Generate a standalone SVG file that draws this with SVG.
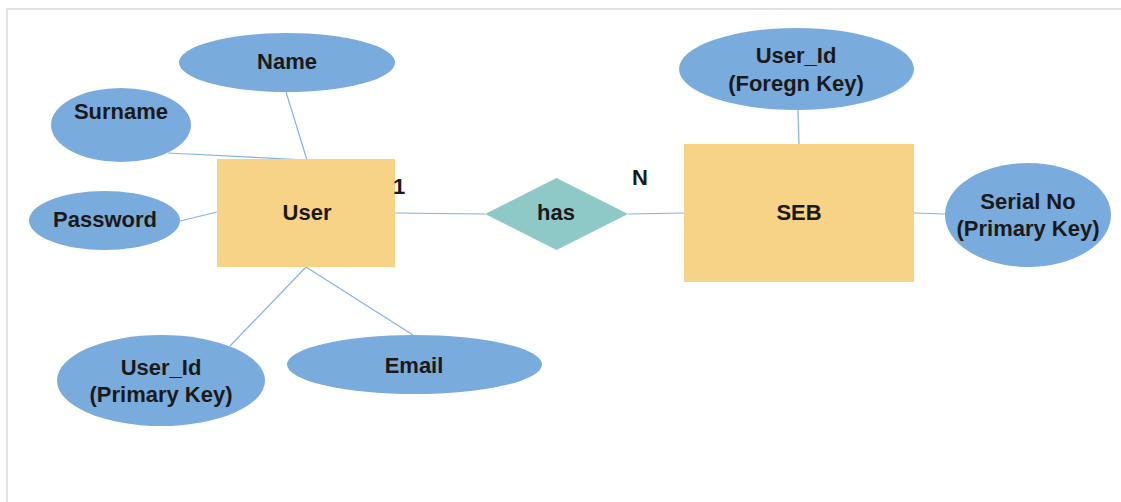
<svg xmlns="http://www.w3.org/2000/svg" width="1121" height="502" viewBox="0 0 1121 502">
  <style>
    .attr { fill: #7aabdd; }
    .ent { fill: #f6d387; }
    .rel { fill: #8fc9c7; }
    .lbl { font-family: "Liberation Sans", Arial, sans-serif; font-weight: bold; font-size: 22px; fill: #1a1a1a; text-anchor: middle; }
    .card { font-family: "Liberation Sans", Arial, sans-serif; font-weight: bold; font-size: 22px; fill: #1a1a1a; text-anchor: middle; }
    .link { stroke: #84b3df; stroke-width: 1.2; fill: none; }
  </style>
  <rect width="1121" height="502" fill="#ffffff"/>
  <!-- page frame -->
  <path d="M7 502 V9 H1121" fill="none" stroke="#e2e2e2" stroke-width="2"/>

  <g id="connectors">
    <line class="link" x1="286" y1="92" x2="307" y2="160"/>
    <line class="link" x1="168" y1="153" x2="307" y2="160"/>
    <line class="link" x1="180" y1="221" x2="217" y2="212"/>
    <line class="link" x1="306" y1="267" x2="230" y2="346"/>
    <line class="link" x1="306" y1="267" x2="413" y2="335"/>
    <line class="link" x1="395" y1="213" x2="485" y2="214"/>
    <line class="link" x1="628" y1="214" x2="684" y2="213"/>
    <line class="link" x1="798" y1="110" x2="799" y2="144"/>
    <line class="link" x1="914" y1="213" x2="945" y2="214"/>
  </g>

  <g id="attr-name">
    <ellipse class="attr" cx="287" cy="62.5" rx="108" ry="29.5"/>
    <text class="lbl" x="287" y="69">Name</text>
  </g>
  <g id="attr-surname">
    <ellipse class="attr" cx="121" cy="125" rx="70" ry="37"/>
    <text class="lbl" x="121" y="119">Surname</text>
  </g>
  <g id="attr-password">
    <ellipse class="attr" cx="104.5" cy="220.5" rx="75.5" ry="29.5"/>
    <text class="lbl" x="105" y="227">Password</text>
  </g>
  <g id="entity-user">
    <rect class="ent" x="217" y="159" width="178" height="108"/>
    <text class="lbl" x="307" y="220">User</text>
  </g>
  <g id="attr-user-id-pk">
    <ellipse class="attr" cx="161" cy="380.5" rx="104" ry="45.5"/>
    <text class="lbl" x="161" y="375">User_Id</text>
    <text class="lbl" x="161" y="402">(Primary Key)</text>
  </g>
  <g id="attr-email">
    <ellipse class="attr" cx="414.5" cy="364.5" rx="127.5" ry="29.5"/>
    <text class="lbl" x="414" y="373">Email</text>
  </g>
  <g id="rel-has">
    <polygon class="rel" points="485,214 556.5,178 628,214 556.5,250"/>
    <text class="lbl" x="556" y="220">has</text>
  </g>
  <g id="card-one">
    <text class="card" x="399" y="194">1</text>
  </g>
  <g id="card-many">
    <text class="card" x="640" y="185">N</text>
  </g>
  <g id="entity-seb">
    <rect class="ent" x="684" y="144" width="230" height="138"/>
    <text class="lbl" x="799" y="220">SEB</text>
  </g>
  <g id="attr-user-id-fk">
    <ellipse class="attr" cx="796.5" cy="69" rx="117.5" ry="41"/>
    <text class="lbl" x="796" y="63">User_Id</text>
    <text class="lbl" x="796" y="91">(Foregn Key)</text>
  </g>
  <g id="attr-serial-no">
    <ellipse class="attr" cx="1028" cy="215" rx="83" ry="52"/>
    <text class="lbl" x="1028" y="209">Serial No</text>
    <text class="lbl" x="1028" y="236">(Primary Key)</text>
  </g>
</svg>
